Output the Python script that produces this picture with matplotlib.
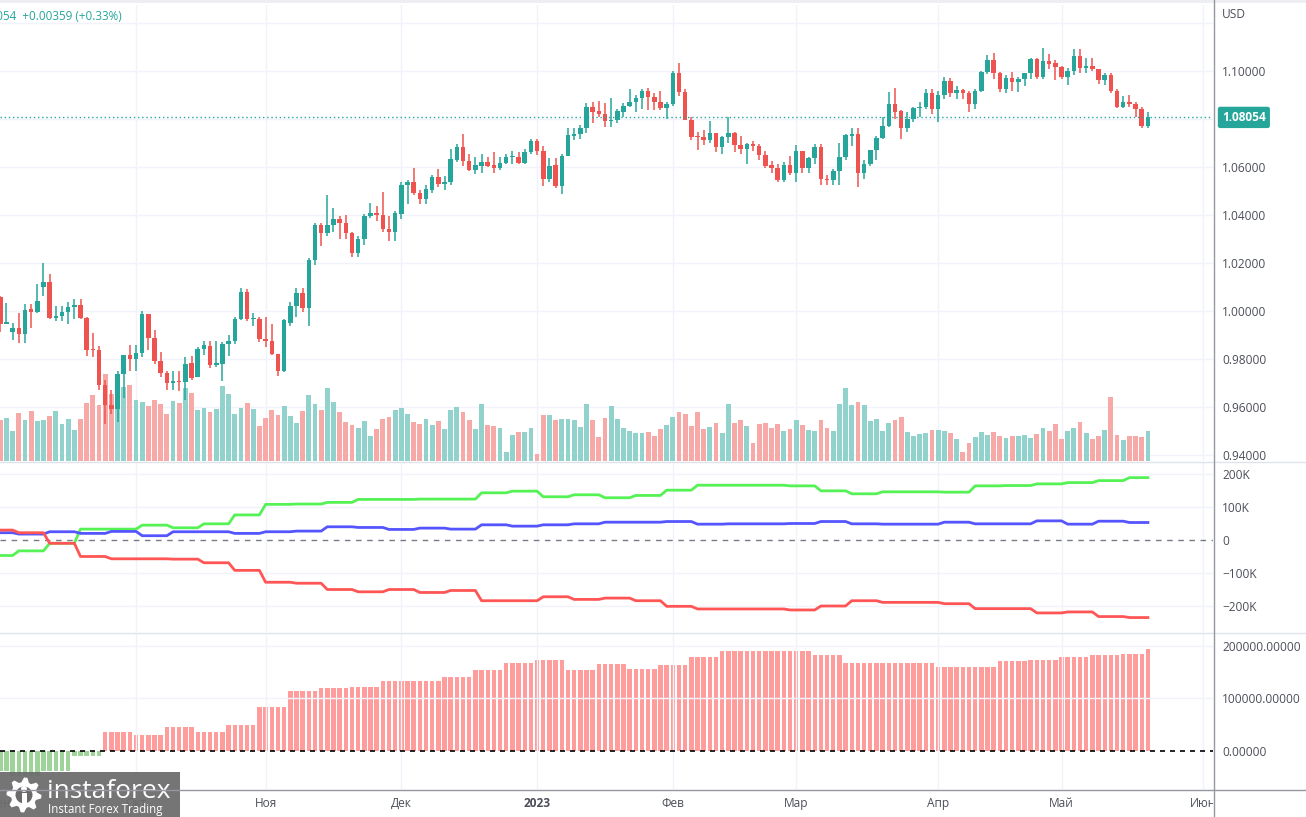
import numpy as np
import pandas as pd
import matplotlib
matplotlib.use("Agg")
import matplotlib.pyplot as plt
from matplotlib import transforms
from matplotlib.patches import Rectangle, Circle, Polygon

plt.rcParams['font.family'] = ['Open Sans', 'DejaVu Sans']

# EUR/USD daily, 1 Sep 2022 .. 19 May 2023 (weekdays)
opens = [
    1.0055, 0.9945, 0.9910, 0.9928, 0.9902, 1.0005, 0.9995, 1.0100, 1.0120, 0.9968, 0.9977,
    0.9995, 1.0015, 1.0025, 0.9970, 0.9837, 0.9836, 0.9690, 0.9607, 0.9590, 0.9735, 0.9815,
    0.9800, 0.9825, 0.9985, 0.9885, 0.9790, 0.9740, 0.9700, 0.9705, 0.9702, 0.9780, 0.9725,
    0.9840, 0.9855, 0.9775, 0.9780, 0.9860, 0.9875, 0.9965, 1.0080, 0.9965, 0.9967,
    0.9882, 0.9875, 0.9820, 0.9750, 0.9950, 1.0020, 1.0075, 1.0010, 1.0210, 1.0355, 1.0325,
    1.0355, 1.0380, 1.0365, 1.0325, 1.0240, 1.0300, 1.0395, 1.0405, 1.0400, 1.0340, 1.0330,
    1.0405, 1.0525, 1.0535, 1.0490, 1.0465, 1.0505, 1.0555, 1.0530, 1.0535, 1.0630, 1.0680,
    1.0625, 1.0585, 1.0605, 1.0620, 1.0605, 1.0595, 1.0615, 1.0640, 1.0642, 1.0615, 1.0660,
    1.0705, 1.0665, 1.0550, 1.0605, 1.0520, 1.0645, 1.0730, 1.0735, 1.0760, 1.0850, 1.0830,
    1.0820, 1.0790, 1.0795, 1.0830, 1.0855, 1.0870, 1.0885, 1.0915, 1.0890, 1.0870, 1.0845,
    1.0860, 1.0990, 1.0910, 1.0795, 1.0725, 1.0722, 1.0710, 1.0740, 1.0680, 1.0725, 1.0740,
    1.0690, 1.0675, 1.0695, 1.0685, 1.0650, 1.0605, 1.0595, 1.0545, 1.0605,
    1.0575, 1.0665, 1.0595, 1.0635, 1.0680, 1.0550, 1.0545, 1.0580, 1.0640, 1.0730, 1.0735,
    1.0575, 1.0610, 1.0670, 1.0720, 1.0770, 1.0860, 1.0830, 1.0760, 1.0800, 1.0845, 1.0848,
    1.0905,
    1.0840, 1.0900, 1.0955, 1.0905, 1.0920, 1.0905, 1.0860, 1.0915, 1.0995, 1.1045, 1.0990,
    1.0925, 1.0970, 1.0955, 1.0965, 1.0990, 1.1050, 1.0975, 1.1040, 1.1030,
    1.1015, 1.0975, 1.1000, 1.1062, 1.1010, 1.1020, 1.1005, 1.0960, 1.0980, 1.0915, 1.0850,
    1.0870, 1.0860, 1.0840, 1.0770,
]
closes = [
    0.9945, 0.9954, 0.9928, 0.9902, 1.0005, 0.9995, 1.0040, 1.0120, 0.9968, 0.9977, 0.9995,
    1.0015, 1.0025, 0.9970, 0.9837, 0.9836, 0.9690, 0.9607, 0.9590, 0.9735, 0.9815, 0.9800,
    0.9825, 0.9985, 0.9885, 0.9790, 0.9740, 0.9700, 0.9705, 0.9702, 0.9780, 0.9720, 0.9840,
    0.9855, 0.9775, 0.9780, 0.9860, 0.9875, 0.9965, 1.0080, 0.9965, 0.9967, 0.9882,
    0.9875, 0.9820, 0.9750, 0.9960, 1.0020, 1.0075, 1.0010, 1.0210, 1.0355, 1.0325, 1.0355,
    1.0380, 1.0365, 1.0325, 1.0240, 1.0300, 1.0395, 1.0405, 1.0400, 1.0340, 1.0330, 1.0405,
    1.0525, 1.0535, 1.0490, 1.0465, 1.0505, 1.0555, 1.0530, 1.0535, 1.0630, 1.0680, 1.0625,
    1.0585, 1.0605, 1.0620, 1.0605, 1.0595, 1.0615, 1.0640, 1.0642, 1.0615, 1.0660, 1.0705,
    1.0665, 1.0550, 1.0605, 1.0520, 1.0645, 1.0730, 1.0735, 1.0760, 1.0850, 1.0830, 1.0820,
    1.0790, 1.0795, 1.0830, 1.0855, 1.0870, 1.0885, 1.0915, 1.0890, 1.0870, 1.0845, 1.0860,
    1.0990, 1.0910, 1.0795, 1.0725, 1.0722, 1.0710, 1.0740, 1.0680, 1.0725, 1.0740, 1.0690,
    1.0675, 1.0695, 1.0685, 1.0650, 1.0605, 1.0595, 1.0545, 1.0605, 1.0575,
    1.0665, 1.0595, 1.0635, 1.0680, 1.0550, 1.0545, 1.0580, 1.0640, 1.0730, 1.0735, 1.0575,
    1.0610, 1.0670, 1.0720, 1.0770, 1.0860, 1.0830, 1.0760, 1.0800, 1.0845, 1.0848, 1.0905,
    1.0840,
    1.0900, 1.0955, 1.0905, 1.0920, 1.0905, 1.0860, 1.0915, 1.0995, 1.1045, 1.0990, 1.0925,
    1.0970, 1.0955, 1.0965, 1.0990, 1.1050, 1.0975, 1.1040, 1.1030, 1.1015,
    1.0975, 1.1000, 1.1062, 1.1010, 1.1020, 1.1005, 1.0960, 1.0980, 1.0915, 1.0850, 1.0870,
    1.0860, 1.0840, 1.0770, 1.08054,
]
highs = [
    1.0060, 1.0034, 0.9950, 0.9990, 1.0030, 1.0030, 1.0110, 1.0198, 1.0153, 1.0020, 1.0018,
    1.0035, 1.0050, 1.0050, 0.9975, 0.9905, 0.9852, 0.9710, 0.9670, 0.9750, 0.9815, 0.9855,
    0.9855, 0.9999, 0.9985, 0.9920, 0.9830, 0.9750, 0.9750, 0.9750, 0.9805, 0.9810, 0.9850,
    0.9875, 0.9875, 0.9875, 0.9870, 0.9900, 0.9975, 1.0094, 1.0090, 0.9990, 0.9975,
    0.9975, 0.9945, 0.9815, 0.9965, 1.0035, 1.0095, 1.0095, 1.0220, 1.0365, 1.0365, 1.0480,
    1.0430, 1.0395, 1.0400, 1.0330, 1.0310, 1.0405, 1.0450, 1.0435, 1.0495, 1.0395, 1.0415,
    1.0535, 1.0545, 1.0595, 1.0505, 1.0525, 1.0565, 1.0590, 1.0560, 1.0673, 1.0695, 1.0737,
    1.0655, 1.0640, 1.0655, 1.0640, 1.0660, 1.0640, 1.0655, 1.0665, 1.0660, 1.0675, 1.0715,
    1.0715, 1.0685, 1.0635, 1.0635, 1.0655, 1.0760, 1.0760, 1.0775, 1.0865, 1.0870, 1.0875,
    1.0865, 1.0885, 1.0840, 1.0865, 1.0925, 1.0900, 1.0925, 1.0930, 1.0905, 1.0915, 1.0870,
    1.1000, 1.1033, 1.0925, 1.0805, 1.0745, 1.0755, 1.0790, 1.0740, 1.0730, 1.0805, 1.0745,
    1.0730, 1.0700, 1.0705, 1.0695, 1.0665, 1.0625, 1.0610, 1.0620, 1.0645,
    1.0690, 1.0665, 1.0640, 1.0695, 1.0695, 1.0565, 1.0590, 1.0700, 1.0735, 1.0760, 1.0760,
    1.0630, 1.0670, 1.0730, 1.0805, 1.0912, 1.0930, 1.0835, 1.0830, 1.0850, 1.0870, 1.0925,
    1.0925,
    1.0915, 1.0975, 1.0970, 1.0935, 1.0925, 1.0915, 1.0925, 1.1000, 1.1065, 1.1075, 1.0995,
    1.0980, 1.0995, 1.0975, 1.0990, 1.1055, 1.1055, 1.1095, 1.1070, 1.1045,
    1.1020, 1.1010, 1.1090, 1.1092, 1.1055, 1.1055, 1.1000, 1.0990, 1.0990, 1.0925, 1.0895,
    1.0900, 1.0870, 1.0850, 1.0830,
]
lows = [
    0.9910, 0.9945, 0.9877, 0.9865, 0.9864, 0.9930, 0.9990, 1.0060, 0.9965, 0.9955, 0.9955,
    0.9945, 0.9965, 0.9965, 0.9810, 0.9807, 0.9670, 0.9530, 0.9570, 0.9535, 0.9635, 0.9750,
    0.9750, 0.9805, 0.9835, 0.9780, 0.9725, 0.9670, 0.9670, 0.9665, 0.9630, 0.9710, 0.9725,
    0.9815, 0.9760, 0.9765, 0.9705, 0.9810, 0.9860, 0.9960, 0.9955, 0.9935, 0.9870,
    0.9850, 0.9815, 0.9730, 0.9745, 0.9935, 0.9975, 0.9995, 0.9935, 1.0190, 1.0270, 1.0310,
    1.0330, 1.0300, 1.0300, 1.0225, 1.0225, 1.0275, 1.0385, 1.0375, 1.0330, 1.0290, 1.0290,
    1.0380, 1.0445, 1.0480, 1.0445, 1.0445, 1.0490, 1.0515, 1.0505, 1.0525, 1.0620, 1.0605,
    1.0580, 1.0570, 1.0575, 1.0600, 1.0575, 1.0585, 1.0610, 1.0610, 1.0610, 1.0610, 1.0655,
    1.0650, 1.0520, 1.0535, 1.0510, 1.0485, 1.0645, 1.0710, 1.0715, 1.0740, 1.0780, 1.0805,
    1.0765, 1.0765, 1.0780, 1.0805, 1.0850, 1.0830, 1.0840, 1.0835, 1.0835, 1.0835, 1.0800,
    1.0855, 1.0895, 1.0795, 1.0710, 1.0670, 1.0690, 1.0700, 1.0660, 1.0655, 1.0700, 1.0660,
    1.0655, 1.0610, 1.0665, 1.0630, 1.0595, 1.0575, 1.0535, 1.0535, 1.0565,
    1.0535, 1.0575, 1.0575, 1.0610, 1.0525, 1.0525, 1.0525, 1.0525, 1.0630, 1.0685, 1.0515,
    1.0550, 1.0605, 1.0630, 1.0715, 1.0765, 1.0800, 1.0715, 1.0745, 1.0785, 1.0805, 1.0840,
    1.0820,
    1.0787, 1.0880, 1.0890, 1.0880, 1.0880, 1.0830, 1.0840, 1.0910, 1.0985, 1.0965, 1.0910,
    1.0905, 1.0915, 1.0910, 1.0935, 1.0965, 1.0965, 1.0965, 1.1005, 1.0960,
    1.0965, 1.0940, 1.0980, 1.0990, 1.0990, 1.1000, 1.0945, 1.0940, 1.0905, 1.0845, 1.0845,
    1.0850, 1.0805, 1.0760, 1.0760,
]
volume = [
    41, 43, 30, 48, 41, 50, 40, 41, 45, 50, 37, 42, 31, 42, 58, 66, 56, 87, 67, 80, 74, 76,
    61, 59, 55, 61, 57, 47, 60, 58, 73, 68, 51, 53, 49, 52, 75, 67, 47, 53, 58, 52, 35,
    43, 51, 46, 55, 45, 38, 50, 66, 57, 51, 73, 59, 49, 39, 36, 33, 40, 25, 32, 42, 44, 51,
    53, 47, 39, 37, 42, 36, 40, 32, 51, 54, 49, 41, 32, 57, 36, 35, 33, 9, 26, 29, 29, 33,
    7, 46, 46, 41, 42, 42, 41, 34, 57, 41, 24, 43, 55, 42, 33, 30, 28, 28, 29, 25, 32, 36,
    44, 49, 47, 35, 49, 32, 34, 38, 28, 57, 38, 41, 35, 18, 37, 38, 33, 37, 30, 32,
    41, 36, 31, 30, 41, 33, 30, 57, 73, 56, 59, 56, 40, 42, 30, 38, 41, 44, 29, 25, 27, 28, 31,
    31, 30, 28, 22, 9, 18, 24, 29, 26, 29, 25, 23, 25, 25, 26, 23, 27, 33, 30, 37,
    22, 30, 33, 39, 28, 22, 25, 31, 64, 26, 21, 25, 25, 24, 30,
]

# weekly COT positions, thousands of contracts (new value each Tuesday)
cot_green = [-47, -33, -10, 33, 33, 45, 37, 49, 76, 108, 109, 114, 123, 123, 124, 124, 143, 148, 131,
             137, 128, 135, 151, 166, 166, 166, 164, 149, 140, 146, 146, 145, 164, 165, 170, 174, 180, 189]
cot_blue = [22, 18, 25, 20, 26, 13, 25, 25, 20, 25, 27, 40, 38, 32, 36, 33, 46, 42, 46,
            49, 54, 54, 56, 48, 49, 49, 50, 56, 49, 48, 48, 54, 49, 49, 58, 48, 57, 53]
cot_red = [30, 22, -10, -50, -57, -57, -58, -69, -92, -128, -131, -150, -157, -150, -159, -153, -184, -184, -172,
           -180, -176, -184, -201, -209, -209, -209, -212, -200, -184, -189, -189, -193, -208, -208, -221, -218, -232, -235]
# weekly net position histogram, thousands (new value each Monday, last one on the final Friday)
net_hist = [-38, -49, -38, -11, 36, 30, 45, 36, 49, 83, 114, 119, 121, 133, 133, 140, 153, 168, 172,
            154, 165, 156, 163, 179, 190, 190, 190, 182, 167, 167, 167, 160, 160, 171, 173, 178, 183, 185, 193]

month_names = ['Сен', 'Окт', 'Ноя', 'Дек', '2023', 'Фев', 'Мар', 'Апр', 'Май', 'Июн']
price_ticks = [0.94, 0.96, 0.98, 1.00, 1.02, 1.04, 1.06, 1.08, 1.10]
cot_ticks = [200, 100, 0, -100, -200]
cot_labels = ['200K', '100K', '0', '\u2212100K', '\u2212200K']
hist_ticks = [200, 100, 0]
hist_labels = ['200000.00000', '100000.00000', '0.00000']
last_price = 1.08054

dates = pd.bdate_range('2022-09-01', '2023-05-19')
n = len(dates)
x = np.arange(n)
o = np.array(opens); c = np.array(closes); hi = np.array(highs); lo = np.array(lows)

cal = pd.bdate_range('2022-09-01', '2023-06-01')
month_pos = [i for i in range(len(cal)) if i == 0 or cal[i].month != cal[i - 1].month]

cot_counts = [3] + [5] * 36 + [4]
hist_counts = [2] + [5] * 36 + [4, 1]
green_d = np.repeat(cot_green, cot_counts)
blue_d = np.repeat(cot_blue, cot_counts)
red_d = np.repeat(cot_red, cot_counts)
hist_d = np.repeat(net_hist, hist_counts)

W, H = 1306, 817
UP, DOWN = '#26a69a', '#ef5350'
GRID = '#f0f3fa'
TXT = '#4c4f59'
BAR, X0 = 6.17, 0.3
AXR = 1213
xlim = ((0 - X0) / BAR, (AXR - X0) / BAR)


def rect(x0, y0, x1, y1):
    return [x0 / W, 1 - y1 / H, (x1 - x0) / W, (y1 - y0) / H]


fig = plt.figure(figsize=(W / 100, H / 100), dpi=100)
fig.patch.set_facecolor('white')

# price pane: price = 1.10 at y=70.7px, 2400 px per unit
P_TOP = 1.10 + (70.7 - 5) / 2400
P_BOT = 1.10 - (461 - 70.7) / 2400

ax_bg = fig.add_axes(rect(0, 5, AXR, 461), label='bg')
ax_bg.set_xlim(xlim); ax_bg.set_ylim(P_BOT, P_TOP); ax_bg.axis('off')
for p in price_ticks + [1.12]:
    ax_bg.axhline(p, color=GRID, lw=1)
for m in month_pos[1:]:
    ax_bg.axvline(m, color=GRID, lw=1)

up = c >= o
cols = np.where(up, UP, DOWN)
vcols = np.where(up, '#92d2cc', '#f7a9a7')

ax_vol = fig.add_axes(rect(0, 5, AXR, 461), label='vol')
ax_vol.patch.set_visible(False)
ax_vol.bar(x, volume, width=0.78, color=vcols, linewidth=0)
ax_vol.set_xlim(xlim); ax_vol.set_ylim(0, 456); ax_vol.axis('off')

ax = fig.add_axes(rect(0, 5, AXR, 461), label='price')
ax.patch.set_visible(False)
ax.vlines(x, lo, hi, colors=cols, lw=1.1)
ax.bar(x, np.maximum(np.abs(c - o), 0.0004), bottom=np.minimum(o, c), width=0.73,
       color=cols, linewidth=0)
ax.axhline(last_price, color=UP, lw=1, ls=(0, (1, 2)))
ax.set_xlim(xlim); ax.set_ylim(P_BOT, P_TOP)
for s in ax.spines.values():
    s.set_visible(False)
ax.set_xticks([])
ax.yaxis.tick_right()
# the 1.08 label is covered by the last-price tag
shown = [p for p in price_ticks if abs(p - last_price) > 0.005]
ax.set_yticks(shown)
ax.set_yticklabels(['%.5f' % p for p in shown])
ax.tick_params(axis='y', length=0, pad=6.5, labelsize=8.6, labelcolor=TXT)
trans = transforms.blended_transform_factory(ax.transAxes, ax.transData)
ax.text(1222 / AXR, last_price, '%.5f' % last_price, transform=trans, ha='left', va='center',
        fontsize=8.6, color='white', fontweight='bold',
        bbox=dict(boxstyle='round,pad=0.35,rounding_size=0.2', fc=UP, ec='none'))

# COT lines pane: 0 at y=540px, 0.33 px per thousand
ax2 = fig.add_axes(rect(0, 462, AXR, 632), label='cot')
ax2.set_xlim(xlim); ax2.set_ylim(-(632 - 540) / 0.33, (540 - 462) / 0.33)
for v in [200, 100, -100, -200]:
    ax2.axhline(v, color=GRID, lw=1)
for m in month_pos[1:]:
    ax2.axvline(m, color=GRID, lw=1)
ax2.axhline(0, color='#787b86', lw=1, ls=(0, (4, 4)))
ax2.plot(x, green_d, color='#55f255', lw=2)
ax2.plot(x, blue_d, color='#5555ff', lw=2)
ax2.plot(x, red_d, color='#ff5555', lw=2)
for s in ax2.spines.values():
    s.set_visible(False)
ax2.set_xticks([])
ax2.yaxis.tick_right()
ax2.set_yticks(cot_ticks)
ax2.set_yticklabels(cot_labels)
ax2.tick_params(axis='y', length=0, pad=6.5, labelsize=8.6, labelcolor=TXT)

# net histogram pane: 0 at y=750.7px, 0.525 px per thousand
ax3 = fig.add_axes(rect(0, 633, AXR, 789), label='hist')
ax3.set_xlim(xlim); ax3.set_ylim(-(789 - 750.7) / 0.525, (750.7 - 633) / 0.525)
for v in [200, 100]:
    ax3.axhline(v, color=GRID, lw=1)
for m in month_pos[1:]:
    ax3.axvline(m, color=GRID, lw=1)
ax3.bar(x, hist_d, width=0.72, color=np.where(hist_d >= 0, '#ff9c9c', '#9ed39a'), linewidth=0)
ax3.axhline(0, color='black', lw=1.2, ls=(0, (3, 3)))
for s in ax3.spines.values():
    s.set_visible(False)
ax3.set_xticks([])
ax3.yaxis.tick_right()
ax3.set_yticks(hist_ticks)
ax3.set_yticklabels(hist_labels)
ax3.tick_params(axis='y', length=0, pad=6.5, labelsize=8.6, labelcolor=TXT)

# time axis
ax_t = fig.add_axes(rect(0, 790, AXR, 817), label='time')
ax_t.set_xlim(xlim); ax_t.set_ylim(0, 1); ax_t.axis('off')
for m, name in zip(month_pos, month_names):
    ax_t.text(m, 0.5, name, ha='center', va='center', fontsize=8.6, color=TXT,
              fontweight='bold' if name == '2023' else 'normal', clip_on=True)

# separators and frame lines
for yy, col in [(461.5, '#e0e3eb'), (632.5, '#e0e3eb'), (789.5, '#9598a1')]:
    fig.add_artist(plt.Line2D([0, 1], [1 - yy / H, 1 - yy / H], color=col, lw=1))
fig.add_artist(plt.Line2D([(AXR + 0.5) / W] * 2, [0, 1], color='#9598a1', lw=1))
fig.add_artist(Rectangle((0, 1 - 3 / H), 1, 3 / H, transform=fig.transFigure, color='#eceef2', lw=0))

fig.text(1222 / W, 1 - 15 / H, 'USD', fontsize=8.6, color=TXT, va='center')
fig.text(122 / W, 1 - 16 / H, '1.08054  +0.00359 (+0.33%)', fontsize=8.4, color=UP,
         ha='right', va='center')

# logo
ax_l = fig.add_axes(rect(0, 772, 180, 817), label='logo')
ax_l.set_xlim(0, 180); ax_l.set_ylim(45, 0); ax_l.axis('off')
ax_l.add_patch(Rectangle((0, 0), 180, 45, color='#6b6b6b', alpha=0.93, lw=0))
ang = np.linspace(0, 2 * np.pi, 33)[:-1]
rad = np.where((np.arange(32) // 2) % 2 == 0, 17.5, 13)
ax_l.add_patch(Polygon(np.c_[24 + rad * np.cos(ang), 23 + rad * np.sin(ang)], color='white', lw=0))
ax_l.add_patch(Circle((24, 23), 8.5, color='#6b6b6b', lw=0))
ax_l.add_patch(Circle((24, 17), 3, color='white', lw=0))
ax_l.add_patch(Rectangle((21.5, 21), 5, 11, color='white', lw=0))
ax_l.text(47, 19, 'instaforex', color='white', fontsize=19, va='center', ha='left')
ax_l.text(48, 37.5, 'Instant Forex Trading', color='white', fontsize=8.3, va='center', ha='left')

fig.savefig('out.png', dpi=100, facecolor='white')
